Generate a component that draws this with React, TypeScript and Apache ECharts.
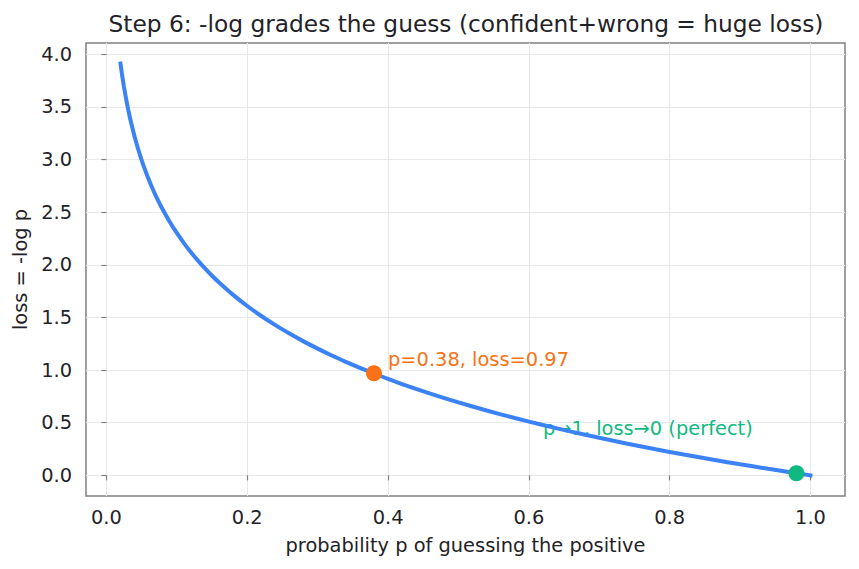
import React, { useEffect, useRef } from "react";
import * as echarts from "echarts";

// Sampled loss curve: probability p and its cross-entropy loss -log p
const probabilities = [
  0.02, 0.022, 0.025, 0.028, 0.031, 0.035, 0.04, 0.045, 0.05, 0.055, 0.06, 0.065, 0.07, 0.08, 0.09, 0.1,
  0.11, 0.12, 0.13, 0.14, 0.15, 0.16, 0.18, 0.2, 0.22, 0.24, 0.26, 0.28, 0.3, 0.32, 0.34, 0.36, 0.38,
  0.4, 0.43, 0.46, 0.5, 0.54, 0.58, 0.62, 0.66, 0.7, 0.74, 0.78, 0.82, 0.86, 0.9, 0.94, 0.98, 1.0,
];
const losses = [
  3.912, 3.817, 3.689, 3.576, 3.474, 3.352, 3.219, 3.101, 2.996, 2.9, 2.813, 2.733, 2.659, 2.526, 2.408, 2.303,
  2.207, 2.12, 2.04, 1.966, 1.897, 1.833, 1.715, 1.609, 1.514, 1.427, 1.347, 1.273, 1.204, 1.139, 1.079, 1.022, 0.968,
  0.916, 0.844, 0.777, 0.693, 0.616, 0.545, 0.478, 0.416, 0.357, 0.301, 0.248, 0.198, 0.151, 0.105, 0.062, 0.02, 0.0,
];

// Highlighted guesses
const guessPoint = [0.38, 0.97];
const perfectPoint = [0.98, 0.02];

// Annotation texts and their anchors (text baseline sits on the anchor)
const guessNote = { text: "p=0.38, loss=0.97", at: [0.4, 1.05] };
const perfectNote = { text: "p\u21921, loss\u21920 (perfect)", at: [0.62, 0.4] };

const xTicks = [0, 0.2, 0.4, 0.6, 0.8, 1.0];
const yTicks = [0, 0.5, 1, 1.5, 2, 2.5, 3, 3.5, 4];

const BLUE = "#3b82f6";
const ORANGE = "#f97316";
const GREEN = "#10b981";
const TEXT = "#1f2328";
const FRAME = "#808080";
const FONT = "DejaVu Sans";
const FS = 19.4;

export default function App() {
  const ref = useRef<HTMLDivElement>(null);

  useEffect(() => {
    if (!ref.current) return;
    const chart = echarts.init(ref.current, undefined, { renderer: "svg" });

    const curve = probabilities.map((p, i) => [p, losses[i]]);

    const noteLabel = (text: string, color: string) => ({
      show: true,
      formatter: text,
      position: [0, 0],
      offset: [0, 4.5],
      align: "left",
      verticalAlign: "bottom",
      color,
      fontFamily: FONT,
      fontSize: FS,
    });

    chart.setOption({
      animation: false,
      backgroundColor: "#ffffff",
      textStyle: { fontFamily: FONT, color: TEXT },
      title: {
        text: "Step 6: -log grades the guess (confident+wrong = huge loss)",
        left: 461,
        textAlign: "center",
        top: 7,
        textStyle: { fontFamily: FONT, fontSize: 23.3, fontWeight: "normal", color: TEXT },
      },
      grid: { left: 86, right: 14, top: 43, bottom: 73, show: true, borderColor: FRAME, borderWidth: 1.5 },
      xAxis: {
        type: "value",
        min: -0.029,
        max: 1.049,
        name: "probability p of guessing the positive",
        nameLocation: "middle",
        nameGap: 40,
        nameTextStyle: { fontFamily: FONT, fontSize: FS, color: TEXT },
        axisLine: { show: false },
        axisTick: { show: true, length: 5, lineStyle: { color: FRAME, width: 1.2 }, customValues: xTicks },
        axisLabel: {
          fontFamily: FONT,
          fontSize: FS,
          color: TEXT,
          margin: 12,
          customValues: xTicks,
          formatter: (v: number) => v.toFixed(1),
        },
        splitLine: { show: false },
      },
      yAxis: {
        type: "value",
        min: -0.196,
        max: 4.108,
        name: "loss = -log p",
        nameLocation: "middle",
        nameGap: 56,
        nameTextStyle: { fontFamily: FONT, fontSize: FS, color: TEXT },
        axisLine: { show: false },
        axisTick: { show: true, length: 5, lineStyle: { color: FRAME, width: 1.2 }, customValues: yTicks },
        axisLabel: {
          fontFamily: FONT,
          fontSize: FS,
          color: TEXT,
          margin: 14,
          customValues: yTicks,
          formatter: (v: number) => v.toFixed(1),
        },
        splitLine: { show: false },
      },
      series: [
        // grid lines at the tick values, kept behind everything else
        {
          type: "line",
          data: [],
          silent: true,
          z: 0,
          markLine: {
            z: 0,
            silent: true,
            symbol: "none",
            label: { show: false },
            lineStyle: { color: "#e6e8eb", width: 1, type: "solid" },
            data: [...xTicks.map((v) => ({ xAxis: v })), ...yTicks.map((v) => ({ yAxis: v }))],
          },
        },
        // annotation texts, kept beneath the curve
        {
          type: "scatter",
          z: 1,
          symbolSize: 0,
          silent: true,
          itemStyle: { opacity: 1 },
          data: [
            { value: guessNote.at, label: noteLabel(guessNote.text, ORANGE) },
            { value: perfectNote.at, label: noteLabel(perfectNote.text, GREEN) },
          ],
        },
        {
          type: "line",
          z: 3,
          data: curve,
          smooth: 0.2,
          showSymbol: false,
          lineStyle: { color: BLUE, width: 4, cap: "square" },
        },
        {
          type: "scatter",
          z: 4,
          symbolSize: 16,
          data: [
            { value: guessPoint, itemStyle: { color: ORANGE, opacity: 1 } },
            { value: perfectPoint, itemStyle: { color: GREEN, opacity: 1 } },
          ],
        },
      ],
    });

    return () => chart.dispose();
  }, []);

  return <div ref={ref} style={{ position: "absolute", left: 0, top: 0, width: 859, height: 569 }} />;
}
